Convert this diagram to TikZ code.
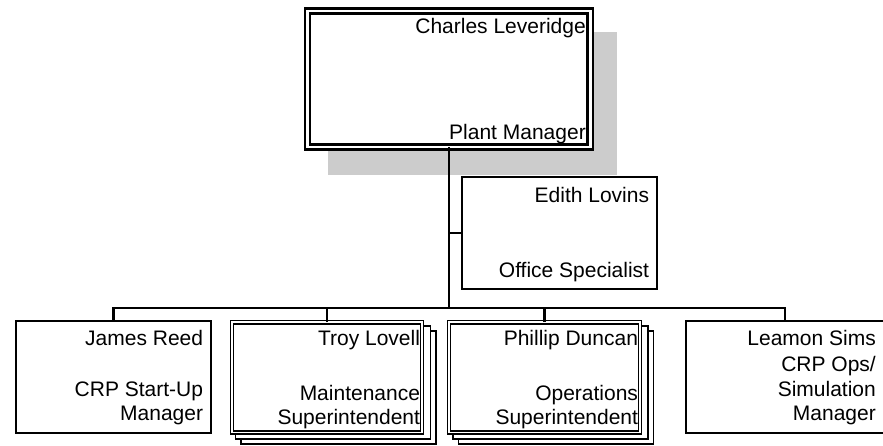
\documentclass[tikz,border=0pt]{standalone}
\usepackage{fontspec}
\setmainfont{Liberation Sans}
\usepackage{tikz}
\definecolor{shadowgray}{HTML}{CCCCCC}

\begin{document}
\begin{tikzpicture}[x=1pt, y=-1pt,
    orgbox/.style={draw, fill=white, line width=2.1pt, outer sep=0pt, inner sep=0pt,
        minimum width=195.2pt, minimum height=112.4pt},
    dblbox/.style={draw, fill=white, double=white, double distance=1.6pt, line width=1.6pt,
        outer sep=0pt, inner sep=0pt, minimum width=190pt, minimum height=110.5pt},
    stackbox/.style={draw, fill=white, line width=1.6pt, outer sep=0pt, inner sep=0pt,
        minimum width=195pt, minimum height=113pt},
    txt/.style={inner sep=0pt, align=right, font=\fontsize{21pt}{24.5pt}\selectfont},
    connector/.style={line width=2.1pt}]

    \useasboundingbox (0,0) rectangle (883,445);

    % shadow of the top box
    \fill[shadowgray] (328,32) rectangle (617,175);

    % top box
    \node[draw, fill=white, double=white, double distance=2.4pt, line width=2.7pt,
        outer sep=0pt, inner sep=0pt, minimum width=282.8pt, minimum height=136.2pt]
        (leveridge) at (448.9,78.9) {};
    \node[txt, anchor=base east, xshift=-4.3pt, yshift=-22.5pt] (leveridgename)
        at (leveridge.north east) {Charles Leveridge};
    \node[txt, anchor=south east, xshift=-4.3pt, yshift=2.6pt] (leveridgetitle)
        at (leveridge.south east) {Plant Manager};

    % assistant
    \node[orgbox] (lovins) at (559.5,232.75) {};
    \node[txt, anchor=base east, xshift=-7.8pt, yshift=-25.5pt] (lovinsname)
        at (lovins.north east) {Edith Lovins};
    \node[txt, anchor=south east, xshift=-7.8pt, yshift=7pt] (lovinstitle)
        at (lovins.south east) {Office Specialist};

    % first row
    \node[orgbox] (reed) at (113.5,377) {};
    \node[txt, anchor=base east, xshift=-7.8pt, yshift=-25.1pt] (reedname)
        at (reed.north east) {James Reed};
    \node[txt, anchor=south east, xshift=-7.8pt, yshift=7.7pt] (reedtitle)
        at (reed.south east) {CRP Start-Up\\Manager};

    \node[stackbox] (lovellback) at (338.5,387.4) {};
    \node[stackbox] (lovellmid) at (333,382.4) {};
    \node[dblbox] (lovell) at (327,377.4) {};
    \node[txt, anchor=base east, xshift=-1.8pt, yshift=-23.8pt] (lovellname)
        at (lovell.north east) {Troy Lovell};
    \node[txt, anchor=south east, xshift=-1.8pt, yshift=3.3pt] (lovelltitle)
        at (lovell.south east) {Maintenance\\Superintendent};

    \node[stackbox] (duncanback) at (556,387.4) {};
    \node[stackbox] (duncanmid) at (550.5,382.4) {};
    \node[dblbox, minimum width=191pt] (duncan) at (544.5,377.4) {};
    \node[txt, anchor=base east, xshift=-1.8pt, yshift=-23.8pt] (duncanname)
        at (duncan.north east) {Phillip Duncan};
    \node[txt, anchor=south east, xshift=-1.8pt, yshift=3.3pt] (duncantitle)
        at (duncan.south east) {Operations\\Superintendent};

    \node[orgbox, minimum width=198.1pt] (sims) at (784.95,377) {};
    \node[txt, anchor=base east, xshift=-8pt, yshift=-25.1pt] (simsname)
        at (sims.north east) {Leamon Sims};
    \node[txt, anchor=south east, xshift=-8pt, yshift=7.7pt] (simstitle)
        at (sims.south east) {CRP Ops/\\Simulation\\Manager};

    % lines
    \coordinate (bus) at (448.9,308);
    \draw[connector] (leveridge.south) -- (bus);
    \draw[connector] (lovins.west) -- (lovins.west -| leveridge.south);
    \draw[connector] (reed.north) |- (bus) -| (sims.north);
    \draw[connector] (lovell.north) -- (lovell.north |- bus);
    \draw[connector] (duncan.north) -- (duncan.north |- bus);

\end{tikzpicture}
\end{document}
